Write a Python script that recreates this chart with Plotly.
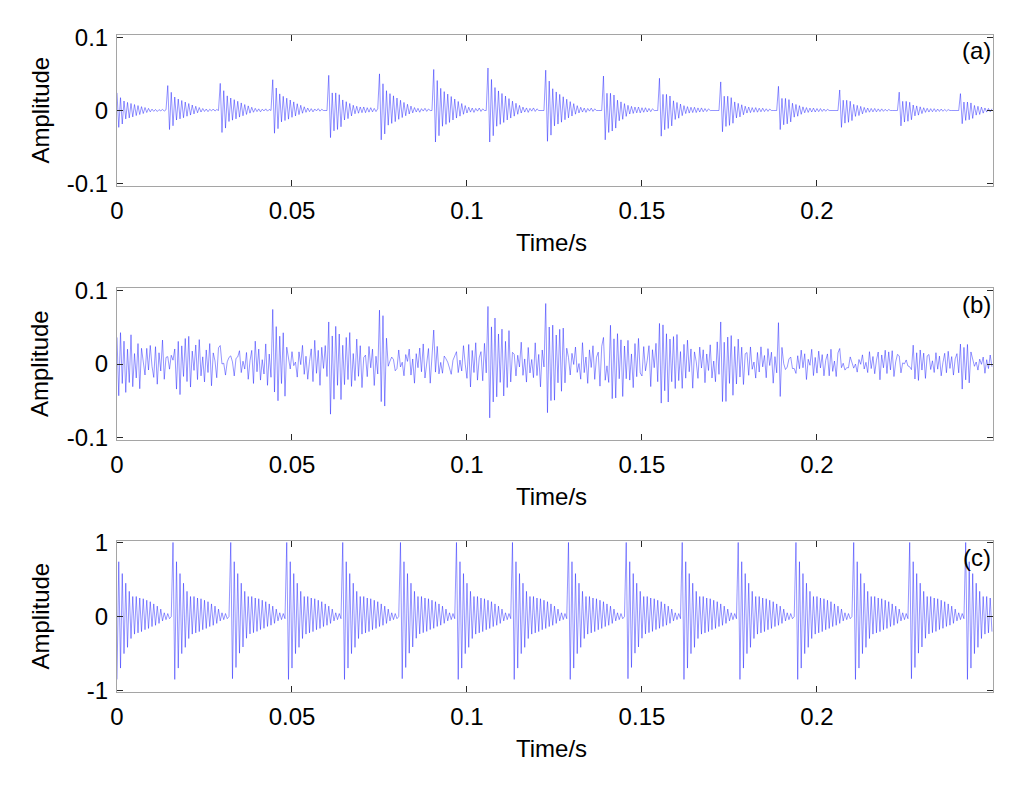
import numpy as np
import plotly.graph_objects as go

# sample step of the drawn signals (s)
dt = 0.0005

# (a) impulse bursts
a_onsets = [0.0, 0.0146, 0.0294, 0.0443, 0.0603, 0.0749, 0.0906, 0.1060,
            0.1223, 0.1389, 0.1551, 0.1726, 0.1891, 0.2063, 0.2234, 0.2409]
a_top = [0.024, 0.034, 0.037, 0.042, 0.048, 0.050, 0.056, 0.058,
         0.055, 0.047, 0.044, 0.039, 0.033, 0.028, 0.025, 0.023]
a_bottom = [-0.023, -0.026, -0.030, -0.031, -0.037, -0.040, -0.043, -0.043,
            -0.042, -0.040, -0.035, -0.029, -0.026, -0.023, -0.021, -0.018]
a_kind = [0, 0, 0, 0, 1, 0, 0, 0, 0, 1, 1, 1, 1, 1, 1, 1]
# relative half-cycle heights of one burst (long decay / short ringing)
a_shape_long = [1.0, -1.0, 0.73, -0.8, 0.54, -0.5, 0.46, -0.44, 0.4, -0.38,
                0.34, -0.3, 0.28, -0.24, 0.22, -0.18, 0.17, -0.12, 0.12, -0.08,
                0.08, -0.05, 0.06, -0.06, 0.05, -0.02, 0.06, -0.03, 0.04, 0.0]
a_shape_short = [1.0, -1.0, 0.5, -0.75, 0.5, -0.7, 0.45, -0.6, 0.3, -0.35,
                 0.25, -0.3, 0.2, -0.2, 0.15, -0.12, 0.12, -0.1, 0.1, -0.08,
                 0.1, -0.08, 0.08, -0.06, 0.08, -0.05, 0.06, -0.04, 0.05, 0.0]

# (b) extra noise on top of (a), in units of 0.001
b_noise = [
    12, -20, 25, -8, 18, -27, 9, -15, 30, -22, 6, -12, 21, -28, 16, 3, -19, 24, -11, 27,
    -5, -17, 22, -26, 14, -9, 31, -20, 8, -24, 19, -13, 26, 2, -21, 15, -30, 11, -7, 23,
    -16, 28, -25, 10, -4, 20, -18, 29, -14, 7,
    -23, 17, -10, 26, -29, 13, 5, -20, 22, -12, 30, -26, 9, -17, 24, -6, 16, -31, 19, -3,
    27, -22, 11, -15, 21, -27, 8, 14, -24, 28, -9, 18, -20, 4, -13, 25, -28, 12, -18, 32,
    -7, 20, -25, 15, -11, 23, -30, 6, 17, -21,
    26, -14, 10, -27, 22, -8, 29, -19, 13, -24, 5, 18, -22, 30, -12, 16, -28, 21, -6, 25,
    -17, 9, -31, 14, -20, 27, -3, 19, -26, 11, -15, 24, -10, 33, -23, 7, -18, 28, -13, 20,
    -29, 4, 15, -21, 26, -9, 22, -32, 12, -16,
    23, -11, 29, -25, 8, 17, -19, 27, -14, 6, -23, 31, -18, 12, -27, 20, -5, 25, -21, 10,
    -30, 16, -8, 24, -13, 28, -22, 3, 19, -26, 14, -10, 32, -17, 21, -28, 9, -15, 26, -20,
    11, -33, 18, -4, 27, -24, 13, -19, 30, -7,
    -16, 22, -29, 15, -9, 26, -21, 5, 18, -25, 28, -12, 20, -30, 8, -17, 31, -23, 14, -6,
    24, -27, 11, -19, 29, -14, 3, 21, -26, 17, -11, 33, -20, 9, -28, 25, -15, 7, -22, 30,
    -18, 13, -31, 19, -4, 27, -24, 10, -16, 23,
    -28, 14, -7, 25, -21, 30, -13, 6, 19, -27, 22, -10, 28, -18, 4, -25, 31, -15, 12, -29,
    20, -8, 26, -23, 9, 16, -30, 24, -11, 18, -26, 5, 29, -19, 13, -22, 27, -6, 21, -32,
    15, -12, 25, -17, 8, -28, 23, -14, 30, -9,
    -20, 26, -13, 7, 22, -29, 17, -5, 28, -24, 11, -18, 31, -10, 19, -27, 14, -3, 24, -21,
    29, -12, 8, -26, 20, -15, 27, -7, 16, -30, 12, 6, -23, 25, -9, 21, -28, 15, -11, 26,
    -19, 4, -24, 30, -14, 18, -22, 10, -29, 17,
    -6, 21, -25, 12, -17, 24, -9, 15, -22, 8, 19, -20, 26, -11, 5, -23, 18, -14, 25, -7,
    13, -21, 22, -4, 16, -26, 10, -12, 23, -18, 6, 20, -24, 14, -8, 25, -16, 3, -21, 19,
    -13, 24, -10, 17, -25, 9, -5, 22, -19, 11,
    -15, 19, -8, 14, -18, 6, 12, -16, 20, -10, 4, -17, 15, -7, 18, -13, 9, -19, 11, -3,
    16, -14, 8, -18, 13, -6, 17, -11, 5, -15, 19, -9, 12, -16, 7, 14, -20, 10, -4, 17,
    -12, 15, -8, 18, -17, 3, 13, -14, 9, -11,
    16, -7, 12, -15, 5, 18, -13, 9, -16, 14, -4, 11, -17, 8, 15, -10, 6, -14, 17, -9,
    12, -18, 3, 13, -11, 16, -6, 10, -15, 7, 14, -12, 4, -16, 11, -8, 15, -13, 6, 17,
    -10, 9, -14, 12, -5, 13, -16, 8, -9, 14, -6,
]

# (c) normalised bursts
c_onsets = [-0.0006, 0.0160, 0.0323, 0.0486, 0.0646, 0.0809, 0.0971, 0.1131,
            0.1291, 0.1454, 0.1614, 0.1777, 0.1940, 0.2103, 0.2263, 0.2426]
c_top = [1.0, 1.0, 1.0, 1.0, 1.0, 1.0, 1.0, 1.0,
         1.0, 1.0, 1.0, 1.0, 1.0, 1.0, 1.0, 1.0]
c_bottom = [-0.85, -0.85, -0.84, -0.85, -0.85, -0.84, -0.85, -0.85,
            -0.85, -0.84, -0.85, -0.85, -0.85, -0.85, -0.84, -0.85]
c_shape = [1.0, -1.0, 0.74, -0.82, 0.58, -0.59, 0.45, -0.49, 0.34, -0.35,
           0.27, -0.28, 0.27, -0.26, 0.25, -0.24, 0.24, -0.21, 0.22, -0.19,
           0.2, -0.16, 0.17, -0.14, 0.14, -0.11, 0.1, -0.07, 0.05, -0.05, 0.04, -0.035]

x_ticks = [0, 0.05, 0.1, 0.15, 0.2]
x_labels = ["0", "0.05", "0.1", "0.15", "0.2"]


def place_bursts(n, onsets, tops, bottoms, shapes, kinds):
    sig = np.zeros(n)
    for j, t0 in enumerate(onsets):
        i0 = int(round(t0 / dt))
        for k, v in enumerate(shapes[kinds[j]]):
            i = i0 + k
            if 0 <= i < n:
                sig[i] += v * (tops[j] if v > 0 else -bottoms[j])
    return sig


n = len(b_noise)
t = np.arange(n) * dt

sig_a = place_bursts(n, a_onsets, a_top, a_bottom, [a_shape_long, a_shape_short], a_kind)
sig_b = sig_a + np.array(b_noise) / 1000.0
sig_c = place_bursts(n, c_onsets, c_top, c_bottom, [c_shape], [0] * len(c_onsets))

FONT = "Liberation Sans, Arial, sans-serif"
# the page puts the figure 8px in from the corner, so the figure is a bit smaller
OFF = 8
W, H = 1024 - 2 * OFF, 786 - 2 * OFF


def px(x):
    return (x - OFF) / W


def py(y):
    return 1 - (y - OFF) / H


fig = go.Figure()
panels = [
    # signal, y range, y ticks, y tick text, frame top px, frame bottom px, tag
    (sig_a, 0.103, [-0.1, 0, 0.1], ["-0.1", "0", "0.1"], 35, 186, "(a)"),
    (sig_b, 0.103, [-0.1, 0, 0.1], ["-0.1", "0", "0.1"], 288, 440, "(b)"),
    (sig_c, 1.02, [-1, 0, 1], ["-1", "0", "1"], 541, 692, "(c)"),
]

for p, (sig, yr, yt, ytt, top, bot, tag) in enumerate(panels):
    ax = "" if p == 0 else str(p + 1)
    fig.add_trace(go.Scatter(
        x=t, y=sig, mode="lines",
        line=dict(color="rgb(20,20,255)", width=0.45),
        xaxis="x" + ax, yaxis="y" + ax, showlegend=False, hoverinfo="skip",
    ))
    common = dict(
        showline=True, mirror="ticks", linecolor="rgb(165,165,165)", linewidth=1,
        ticks="inside", ticklen=6, tickcolor="rgb(40,40,40)", tickwidth=1,
        showgrid=False, zeroline=False, automargin=False,
        tickfont=dict(family=FONT, size=24, color="black"),
    )
    fig.update_layout({
        "xaxis" + ax: dict(
            domain=[px(117), px(993)], range=[0, 0.2503], anchor="y" + ax,
            tickvals=x_ticks, ticktext=x_labels, ticklabelstandoff=3, **common),
        "yaxis" + ax: dict(
            domain=[py(bot), py(top)], range=[-yr, yr], anchor="x" + ax,
            tickvals=yt, ticktext=ytt, ticklabelstandoff=3, **common),
    })
    mid = (top + bot) / 2
    label_font = dict(family=FONT, size=24, color="black")
    fig.add_annotation(x=px(40), y=py(mid), xref="paper", yref="paper",
                       xanchor="center", yanchor="middle",
                       text="Amplitude", textangle=-90, showarrow=False, font=label_font)
    fig.add_annotation(x=px(551), y=py(bot + 56), xref="paper", yref="paper",
                       xanchor="center", yanchor="middle",
                       text="Time/s", showarrow=False, font=label_font)
    fig.add_annotation(x=px(993), y=py(top + 16), xref="paper", yref="paper",
                       xanchor="right", yanchor="middle",
                       text=tag, showarrow=False, font=label_font)

fig.update_layout(
    width=W, height=H,
    margin=dict(l=0, r=0, t=0, b=0),
    paper_bgcolor="white", plot_bgcolor="white",
)

# fig.show()
fig.write_html("out.html")
